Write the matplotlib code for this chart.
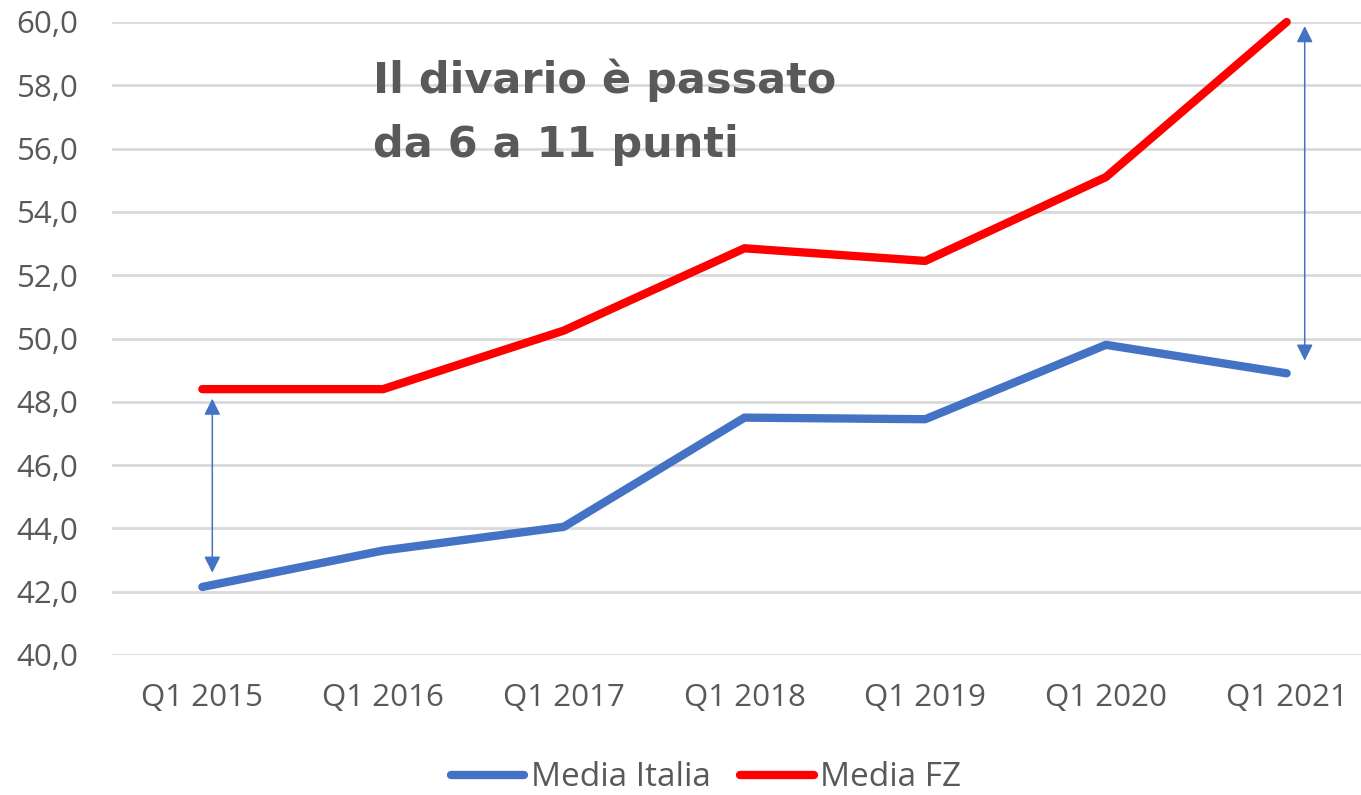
import matplotlib
matplotlib.use("Agg")
import matplotlib.pyplot as plt

categories = ["Q1 2015", "Q1 2016", "Q1 2017", "Q1 2018", "Q1 2019", "Q1 2020", "Q1 2021"]
media_italia = [42.15, 43.3, 44.05, 47.5, 47.45, 49.8, 48.9]
media_fz = [48.4, 48.4, 50.25, 52.85, 52.45, 55.1, 60.0]
yticks = [40, 42, 44, 46, 48, 50, 52, 54, 56, 58, 60]

W, H = 1361, 795
fig = plt.figure(figsize=(W / 100, H / 100), dpi=100)
ax = fig.add_axes([112 / W, 1 - 655 / H, (1377 - 112) / W, (655 - 22) / H])

grey = "#595959"
x = list(range(len(categories)))
ax.plot(x, media_italia, color="#4472C4", lw=6, solid_capstyle="round",
        solid_joinstyle="round", label="Media Italia", clip_on=False, zorder=3)
ax.plot(x, media_fz, color="#FF0000", lw=6, solid_capstyle="round",
        solid_joinstyle="round", label="Media FZ", clip_on=False, zorder=3)

ax.set_xlim(-0.5, 6.5)
ax.set_ylim(40, 60)
ax.set_yticks(yticks)
ax.set_yticklabels([f"{v:.1f}".replace(".", ",") for v in yticks])
ax.set_xticks(x)
ax.set_xticklabels(categories)
ax.grid(axis="y", color="#D9D9D9", lw=2)
ax.set_axisbelow(True)
for s in ax.spines.values():
    s.set_visible(False)
ax.tick_params(axis="both", length=0, labelsize=22.5, colors=grey, labelcolor=grey)
ax.tick_params(axis="y", pad=24)
ax.tick_params(axis="x", pad=20)
for lab in ax.get_xticklabels() + ax.get_yticklabels():
    lab.set_fontfamily("Open Sans")

arrow_kw = dict(arrowstyle="<|-|>,head_length=0.34,head_width=0.17", color="#4472C4",
                lw=1.1, mutation_scale=29, shrinkA=0, shrinkB=0)
ax.annotate("", xy=(0.055, 42.6), xytext=(0.055, 48.1), arrowprops=arrow_kw,
            annotation_clip=False)
ax.annotate("", xy=(6.10, 49.3), xytext=(6.10, 59.87), arrowprops=arrow_kw,
            annotation_clip=False)

fig.text(373 / W, 1 - 58 / H, "Il divario è passato\nda 6 a 11 punti",
         ha="left", va="top", fontsize=31, fontweight="bold", color=grey,
         family="DejaVu Sans", linespacing=1.68)

leg = fig.legend(loc="center", bbox_to_anchor=(706 / W, 1 - 778 / H), ncol=2,
                 frameon=False, handlelength=2.2, columnspacing=0.9,
                 handletextpad=0.2, labelcolor=grey,
                 prop={"family": "Open Sans", "size": 24})

fig.savefig("out.png", dpi=100)
